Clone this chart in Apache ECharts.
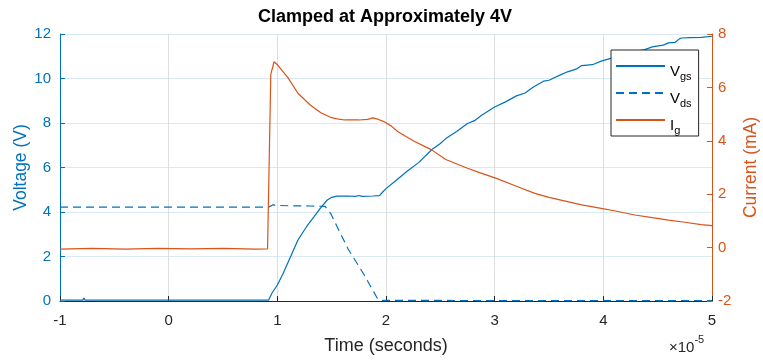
<!DOCTYPE html>
<html>
<head>
<meta charset="utf-8">
<script src="https://cdn.jsdelivr.net/npm/echarts@6/dist/echarts.min.js"></script>
<style>
  html, body { margin: 0; padding: 0; background: #ffffff; }
  #chart { width: 763px; height: 360px; }
</style>
</head>
<body>
<div id="chart"></div>
<script>
// Time axis in units of 1e-5 s
const timeTicks = [-1, 0, 1, 2, 3, 4, 5];
const voltTicks = [0, 2, 4, 6, 8, 10, 12];
const currentTicks = [-2, 0, 2, 4, 6, 8];

// Gate-source voltage (V)
const vgsTime = [-1, -0.79, -0.78, -0.77, -0.32, -0.31, -0.3, 0.3, 0.92, 0.95, 1.0, 1.05, 1.1, 1.15, 1.19,
  1.27, 1.34, 1.4, 1.46, 1.5, 1.55, 1.65, 1.72, 1.75, 1.78, 1.88, 1.94, 1.97, 2.0, 2.1, 2.2, 2.3, 2.42,
  2.5, 2.55, 2.65, 2.75, 2.82, 2.88, 3.0, 3.1, 3.2, 3.28, 3.36, 3.45, 3.5, 3.6, 3.67, 3.75, 3.8, 3.9,
  3.98, 4.1, 4.2, 4.29, 4.38, 4.45, 4.55, 4.6, 4.66, 4.7, 4.72, 4.8, 4.9, 5.0];
const vgsVolts = [0.04, 0.04, 0.13, 0.04, 0.04, 0.09, 0.04, 0.04, 0.04, 0.35, 0.72, 1.2, 1.75, 2.3, 2.74,
  3.35, 3.8, 4.2, 4.54, 4.66, 4.71, 4.72, 4.7, 4.74, 4.7, 4.72, 4.74, 4.9, 5.05, 5.45, 5.85, 6.22, 6.8,
  7.08, 7.3, 7.62, 7.98, 8.12, 8.35, 8.72, 8.95, 9.22, 9.35, 9.63, 9.88, 9.92, 10.15, 10.3, 10.42, 10.58, 10.62,
  10.78, 10.95, 11.05, 11.2, 11.3, 11.42, 11.5, 11.6, 11.62, 11.78, 11.82, 11.84, 11.85, 11.9];

// Drain-source voltage (V)
const vdsTime = [-1, 0.92, 0.96, 0.98, 1.1, 1.3, 1.44, 1.49, 1.65, 1.8, 1.92, 1.95, 3.0, 5.0];
const vdsVolts = [4.22, 4.22, 4.33, 4.3, 4.28, 4.27, 4.25, 3.94, 2.35, 1.17, 0.12, 0.03, 0.02, 0.02];

// Gate current (mA)
const igTime = [-1, -0.7, -0.4, -0.1, 0.2, 0.5, 0.8, 0.91, 0.94, 0.97, 1.0, 1.1, 1.19, 1.3, 1.4, 1.49,
  1.55, 1.62, 1.75, 1.83, 1.88, 1.93, 1.98, 2.05, 2.11, 2.25, 2.42, 2.55, 2.75, 2.88, 3.01, 3.2, 3.37,
  3.5, 3.67, 3.8, 3.98, 4.1, 4.29, 4.45, 4.6, 4.75, 4.9, 5.0];
const igMilliamps = [-0.06, -0.03, -0.06, -0.03, -0.05, -0.03, -0.06, -0.05, 6.5, 6.96, 6.85, 6.35, 5.78, 5.35, 5.05, 4.88,
  4.82, 4.78, 4.78, 4.8, 4.86, 4.8, 4.72, 4.55, 4.34, 4.0, 3.66, 3.3, 2.97, 2.78, 2.6, 2.3, 2.03,
  1.88, 1.72, 1.6, 1.47, 1.38, 1.22, 1.12, 1.03, 0.95, 0.86, 0.82];

const BLUE = '#0072BD';
const ORANGE = '#D95319';
const DARK = '#262626';
const FONT = 'Liberation Sans, Arial, sans-serif';

const zip = (xs, ys) => xs.map((x, i) => [x, ys[i]]);

const chart = echarts.init(document.getElementById('chart'));

chart.setOption({
  backgroundColor: '#ffffff',
  animation: false,
  textStyle: { fontFamily: FONT },
  title: {
    text: 'Clamped at Approximately 4V',
    left: 385,
    textAlign: 'center',
    top: 8,
    padding: 0,
    textStyle: { fontSize: 18, fontWeight: 'bold', color: '#000000', fontFamily: FONT }
  },
  grid: { left: 60, right: 51, top: 34, bottom: 59, containLabel: false, outerBoundsMode: 'none' },
  legend: {
    orient: 'vertical',
    left: 611,
    top: 50,
    padding: [0, 7, 0, 4],
    itemGap: -5,
    itemWidth: 49,
    itemHeight: 14,
    itemTextGap: 3,
    backgroundColor: '#ffffff',
    borderColor: DARK,
    borderWidth: 1,
    borderRadius: 0,
    itemStyle: { opacity: 0, borderWidth: 0 },
    data: ['Vgs', 'Vds', 'Ig'],
    formatter: name => '{v|' + name.charAt(0) + '}{s|' + name.slice(1) + '}',
    textStyle: {
      color: '#000000',
      fontFamily: FONT,
      rich: {
        v: { fontSize: 15, lineHeight: 15, padding: [11, 0, 0, 0], color: '#000000', fontFamily: FONT },
        s: { fontSize: 11, lineHeight: 11, padding: [21, 0, 0, 0], color: '#000000', fontFamily: FONT }
      }
    }
  },
  xAxis: {
    type: 'value',
    min: timeTicks[0],
    max: timeTicks[timeTicks.length - 1],
    interval: 1,
    name: 'Time (seconds)',
    nameLocation: 'middle',
    nameGap: 36,
    nameMoveOverlap: false,
    nameTextStyle: { fontSize: 18, color: DARK, fontFamily: FONT },
    axisLine: { show: true, onZero: false, lineStyle: { color: DARK, width: 1 } },
    axisTick: { show: true, inside: true, length: 5, lineStyle: { color: DARK } },
    axisLabel: { fontSize: 15, color: DARK, margin: 12, fontFamily: FONT },
    splitLine: { show: true, lineStyle: { color: '#DEDEDE', width: 1 } }
  },
  yAxis: [
    {
      type: 'value',
      position: 'left',
      min: voltTicks[0],
      max: voltTicks[voltTicks.length - 1],
      interval: 2,
      name: 'Voltage (V)',
      nameLocation: 'middle',
      nameGap: 30,
      nameMoveOverlap: false,
      nameTextStyle: { fontSize: 17.5, color: BLUE, fontFamily: FONT },
      axisLine: { show: true, onZero: false, lineStyle: { color: BLUE, width: 1 } },
      axisTick: { show: true, inside: true, length: 5, lineStyle: { color: BLUE } },
      axisLabel: { fontSize: 15, color: BLUE, margin: 9, fontFamily: FONT },
      splitLine: { show: true, lineStyle: { color: '#D9EAF5', width: 1 } }
    },
    {
      type: 'value',
      position: 'right',
      min: currentTicks[0],
      max: currentTicks[currentTicks.length - 1],
      interval: 2,
      name: 'Current (mA)',
      nameLocation: 'middle',
      nameGap: 30,
      nameMoveOverlap: false,
      nameTextStyle: { fontSize: 17.5, color: ORANGE, fontFamily: FONT },
      axisLine: { show: true, onZero: false, lineStyle: { color: ORANGE, width: 1 } },
      axisTick: { show: true, inside: true, length: 5, lineStyle: { color: ORANGE } },
      axisLabel: { fontSize: 15, color: ORANGE, margin: 6, fontFamily: FONT },
      splitLine: { show: false }
    }
  ],
  graphic: [
    {
      type: 'text',
      left: 669,
      top: 334,
      style: {
        text: '{m|×10}{e|-5}',
        rich: {
          m: { fontSize: 15, fill: DARK, fontFamily: FONT, padding: [8, 0, 0, 0] },
          e: { fontSize: 11, fill: DARK, fontFamily: FONT, padding: [0, 0, 8, 0] }
        }
      }
    }
  ],
  series: [
    {
      name: 'Vgs',
      type: 'line',
      yAxisIndex: 0,
      data: zip(vgsTime, vgsVolts),
      showSymbol: false,
      symbol: 'none',
      lineStyle: { color: BLUE, width: 1.2 },
      itemStyle: { color: BLUE },
      z: 3
    },
    {
      name: 'Vds',
      type: 'line',
      yAxisIndex: 0,
      data: zip(vdsTime, vdsVolts),
      showSymbol: false,
      symbol: 'none',
      lineStyle: { color: BLUE, width: 1.2, type: [8, 5] },
      itemStyle: { color: BLUE },
      z: 3
    },
    {
      name: 'Ig',
      type: 'line',
      yAxisIndex: 1,
      data: zip(igTime, igMilliamps),
      showSymbol: false,
      symbol: 'none',
      lineStyle: { color: ORANGE, width: 1.2 },
      itemStyle: { color: ORANGE },
      z: 4
    }
  ]
});
</script>
</body>
</html>
